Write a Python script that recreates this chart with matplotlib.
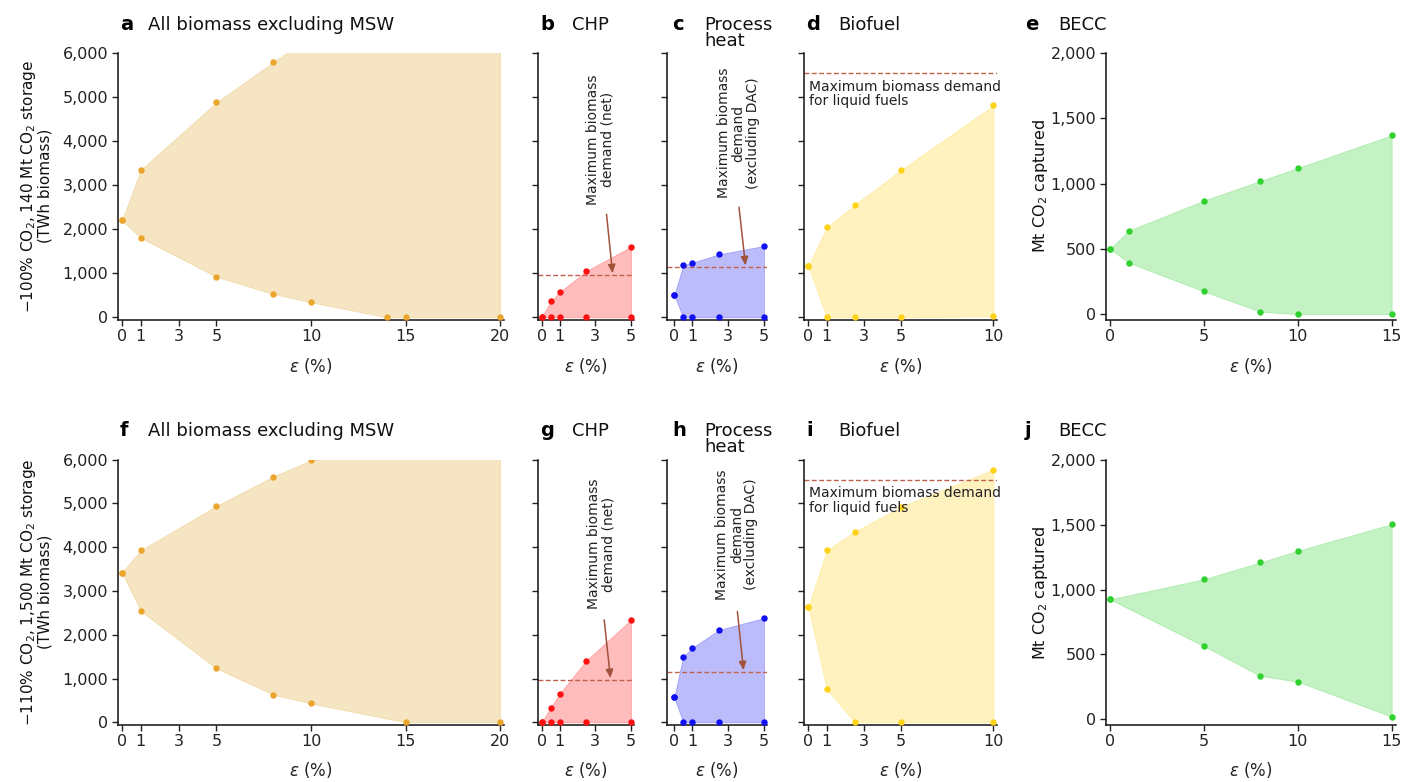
import matplotlib
matplotlib.use("Agg")
import matplotlib.pyplot as plt
from matplotlib.ticker import FuncFormatter

plt.rcParams['font.family'] = ['DejaVu Sans']
plt.rcParams['mathtext.default'] = 'regular'

# ---------------- data ----------------
# Top row (-100% CO2, 140 Mt CO2 storage)
a_x = [0, 1, 5, 8, 10, 14, 15, 20]
a_upper = [2200, 3350, 4880, 5790, 6380, 7000, 7200, 8000]
a_lower = [2200, 1800, 920, 530, 340, 0, 0, 0]

b_x = [0, 0.5, 1, 2.5, 5]
b_upper = [0, 360, 570, 1050, 1600]
b_lower = [0, 0, 0, 0, 0]
b_limit = 970

c_x = [0, 0.5, 1, 2.5, 5]
c_upper = [500, 1180, 1240, 1430, 1620]
c_lower = [500, 0, 0, 0, 0]
c_limit = 1140

d_x = [0, 1, 2.5, 5, 10]
d_upper = [1160, 2040, 2550, 3340, 4810]
d_lower = [1160, 0, 0, 0, 20]
d_limit = 5540

e_x = [0, 1, 5, 8, 10, 15]
e_upper = [500, 640, 870, 1020, 1120, 1370]
e_lower = [500, 395, 175, 20, 0, 0]

# Bottom row (-110% CO2, 1,500 Mt CO2 storage)
f_x = [0, 1, 5, 8, 10, 15, 20]
f_upper = [3420, 3930, 4940, 5610, 5980, 6500, 7000]
f_lower = [3420, 2540, 1230, 630, 430, 0, 0]

g_x = [0, 0.5, 1, 2.5, 5]
g_upper = [0, 335, 650, 1410, 2340]
g_lower = [0, 0, 0, 0, 0]
g_limit = 970

h_x = [0, 0.5, 1, 2.5, 5]
h_upper = [570, 1500, 1700, 2110, 2380]
h_lower = [570, 0, 0, 0, 0]
h_limit = 1140

i_x = [0, 1, 2.5, 5, 10]
i_upper = [2640, 3930, 4350, 4920, 5770]
i_lower = [2640, 760, 0, 0, 0]
i_limit = 5540

j_x = [0, 5, 8, 10, 15]
j_upper = [925, 1080, 1210, 1300, 1505]
j_lower = [925, 565, 335, 290, 20]

ticks_20 = [0, 1, 3, 5, 10, 15, 20]
ticks_5 = [0, 1, 3, 5]
ticks_10 = [0, 1, 3, 5, 10]
ticks_15 = [0, 5, 10, 15]
biomass_yticks = [0, 1000, 2000, 3000, 4000, 5000, 6000]
becc_yticks = [0, 500, 1000, 1500, 2000]

ORANGE = '#eca52c'
ORANGE_FILL = '#e0a52a'
RED = '#ff1010'
BLUE = '#1010f0'
YELLOW = '#ffd21a'
GREEN = '#2ed12e'
DASH = '#c0614b'
ARROW = '#a0523a'

W, H = 1402, 782
fig = plt.figure(figsize=(W / 100, H / 100), dpi=100)


def rect(l, r, t, b):
    return [l / W, 1 - b / H, (r - l) / W, (b - t) / H]


cols = [(118, 504), (538.3, 634), (666.7, 767), (804, 996.7), (1106, 1396)]
rows = [(53, 319.5), (459.5, 724.5)]

fmt = FuncFormatter(lambda v, p: f"{int(v):,}")


def style(ax, xticks, xlim, yticks, ylim, ylabels):
    for s in ['top', 'right']:
        ax.spines[s].set_visible(False)
    for s in ['left', 'bottom']:
        ax.spines[s].set_linewidth(1.1)
        ax.spines[s].set_color('#111111')
    ax.set_xlim(*xlim)
    ax.set_ylim(*ylim)
    ax.set_xticks(xticks)
    ax.set_yticks(yticks)
    ax.tick_params(length=4, width=1, color='#222222', labelsize=11.5,
                   labelcolor='#222222', pad=3)
    if ylabels:
        ax.yaxis.set_major_formatter(fmt)
    else:
        ax.set_yticklabels([])


def panel(ax, x, lo, up, col, fcol=None):
    fcol = fcol or col
    ax.fill_between(x, lo, up, facecolor=fcol, alpha=0.28, edgecolor=fcol,
                    linewidth=0.6, zorder=1)
    ax.plot(x, up, 'o', color=col, ms=3.6, zorder=3)
    ax.plot(x, lo, 'o', color=col, ms=3.6, zorder=3)


data = [
    [(a_x, a_lower, a_upper, ORANGE, ORANGE_FILL), (b_x, b_lower, b_upper, RED, None),
     (c_x, c_lower, c_upper, BLUE, None), (d_x, d_lower, d_upper, YELLOW, None),
     (e_x, e_lower, e_upper, GREEN, None)],
    [(f_x, f_lower, f_upper, ORANGE, ORANGE_FILL), (g_x, g_lower, g_upper, RED, None),
     (h_x, h_lower, h_upper, BLUE, None), (i_x, i_lower, i_upper, YELLOW, None),
     (j_x, j_lower, j_upper, GREEN, None)],
]
xticks_list = [ticks_20, ticks_5, ticks_5, ticks_10, ticks_15]
xlims = [(-0.21, 20.21), (-0.19, 5.17), (-0.42, 5.17), (-0.23, 10.18), (-0.21, 15.23)]
limits = [[None, b_limit, c_limit, d_limit, None], [None, g_limit, h_limit, i_limit, None]]
letters = [['a', 'b', 'c', 'd', 'e'], ['f', 'g', 'h', 'i', 'j']]
titles = ['All biomass excluding MSW', 'CHP', 'Process\nheat', 'Biofuel', 'BECC']
letter_x = [120, 540, 672, 806, 1025]
title_x = [148, 572, 704, 838, 1058]
title_y = [25, 431]
ylabels_left = [r'$-$100% CO$_2$, 140 Mt CO$_2$ storage' + '\n(TWh biomass)',
                r'$-$110% CO$_2$, 1,500 Mt CO$_2$ storage' + '\n(TWh biomass)']
arrows = [[None, ((3.63, 2340), (3.97, 1000)), ((3.61, 2500), (3.97, 1180)), None, None],
          [None, ((3.5, 2340), (3.85, 1010)), ((3.52, 2530), (3.86, 1190)), None, None]]
vtext = [[None, (3.3, 2560, 'Maximum biomass\ndemand (net)'),
          (3.56, 2700, 'Maximum biomass\ndemand\n(excluding DAC)'), None, None],
         [None, (3.35, 2580, 'Maximum biomass\ndemand (net)'),
          (3.49, 2800, 'Maximum biomass\ndemand\n(excluding DAC)'), None, None]]

for r, (yt, yb) in enumerate(rows):
    for c, (xl, xr) in enumerate(cols):
        t = yt if not (c == 4 and r == 1) else 460
        ax = fig.add_axes(rect(xl, xr, t, yb))
        x, lo, up, col, fcol = data[r][c]
        panel(ax, x, lo, up, col, fcol)
        if c == 4:
            style(ax, xticks_list[c], xlims[c], becc_yticks, (-40, 2000), True)
        else:
            style(ax, xticks_list[c], xlims[c], biomass_yticks, (-50, 6000), c == 0)
        lim = limits[r][c]
        if lim is not None:
            ax.axhline(lim, color=DASH, lw=1.0, ls=(0, (3.5, 1.8)), zorder=2)
        if arrows[r][c] is not None:
            (x0, y0), (x1, y1) = arrows[r][c]
            ax.annotate('', xy=(x1, y1), xytext=(x0, y0),
                        arrowprops=dict(arrowstyle='-|>,head_length=0.5,head_width=0.22',
                                        color=ARROW, lw=1.1, shrinkA=0, shrinkB=0,
                                        facecolor='#e8c6b8'), zorder=4)
        if vtext[r][c] is not None:
            tx, ty, s = vtext[r][c]
            ax.text(tx, ty, s, rotation=90, ha='center', va='bottom', fontsize=10,
                    color='#222222', linespacing=1.05, zorder=5)
        if c == 3:
            ax.text(0.05, lim - 150, 'Maximum biomass demand\nfor liquid fuels',
                    ha='left', va='top', fontsize=10, color='#222222',
                    linespacing=1.05, zorder=5)
        # x label
        fig.text(((xl + xr) / 2) / W, 1 - (yb + 46) / H, r'$\it{\varepsilon}$ (%)',
                 ha='center', va='center', fontsize=12, color='#222222')
        # panel letter and title
        fig.text(letter_x[c] / W, 1 - title_y[r] / H, letters[r][c], fontsize=14,
                 fontweight='bold', ha='left', va='center', color='black')
        fig.text(title_x[c] / W, 1 - (title_y[r] + (8 if c == 2 else 0)) / H, titles[c],
                 fontsize=13, ha='left', va='center', color='#111111', linespacing=0.85)
    # left y label
    fig.text(36 / W, 1 - (yt + yb) / 2 / H, ylabels_left[r], rotation=90, ha='center',
             va='center', fontsize=11, color='#111111', linespacing=1.0)
    fig.text(1040 / W, 1 - (yt + 133) / H, r'Mt CO$_2$ captured', rotation=90,
             ha='center', va='center', fontsize=11.5, color='#111111')

fig.savefig('out.png', dpi=100)
